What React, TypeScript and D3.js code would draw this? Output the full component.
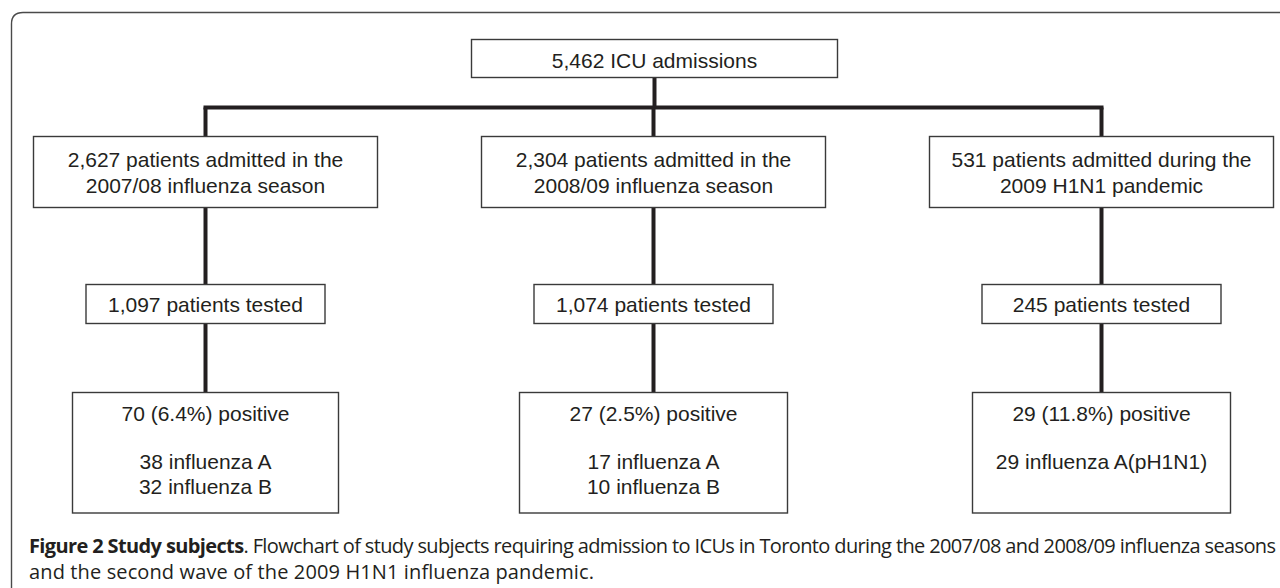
import React from "react";
import * as d3 from "d3";

// ---- data ----
const totalAdmissions = 5462;
const columns = ["2007/08", "2008/09", "2009 H1N1"];
const admitted = [2627, 2304, 531];
const admittedPhrase = ["admitted in the", "admitted in the", "admitted during the"];
const periodLabel = ["2007/08 influenza season", "2008/09 influenza season", "2009 H1N1 pandemic"];
const tested = [1097, 1074, 245];
const positive = [70, 27, 29];
const positivePct = [6.4, 2.5, 11.8];
const subtypeLines = [
  ["38 influenza A", "32 influenza B"],
  ["17 influenza A", "10 influenza B"],
  ["29 influenza A(pH1N1)"],
];
const captionBold = "Figure 2 Study subjects";
const captionRest =
  ". Flowchart of study subjects requiring admission to ICUs in Toronto during the 2007/08 and 2008/09 influenza seasons";
const captionLine2 = "and the second wave of the 2009 H1N1 influenza pandemic.";

// ---- layout ----
const W = 1280;
const H = 588;
const INK = "#231f20";
const BOX = "#3a3a3a";
const FONT = "'Liberation Sans', Arial, Helvetica, sans-serif";
const FS = 21;

const fmt = d3.format(",");
const x = d3.scalePoint<string>().domain(columns).range([205.5, 1101.5]);
const topCx = 654.5;

const rows = {
  top: { y0: 39.5, y1: 77.5, w: 366 },
  season: { y0: 136.5, y1: 207.5, w: 344 },
  tested: { y0: 284.5, y1: 323.5, w: 239 },
  positive: { y0: 392.5, y1: 513, ws: [266, 268, 258] },
};
const busY = 107.5;

function Box({ cx, y0, y1, w }: { cx: number; y0: number; y1: number; w: number }) {
  return (
    <rect
      x={cx - w / 2}
      y={y0}
      width={w}
      height={y1 - y0}
      fill="#fff"
      stroke={BOX}
      strokeWidth={1.4}
    />
  );
}

function Label({ cx, y, text }: { cx: number; y: number; text: string }) {
  return (
    <text x={cx} y={y} textAnchor="middle" fontFamily={FONT} fontSize={FS} fill={INK}>
      {text}
    </text>
  );
}

export default function App() {
  const connector = d3.line();
  const xs = columns.map((c) => x(c) as number);
  return (
    <svg
      width={W}
      height={H}
      style={{ position: "absolute", left: 0, top: 0, background: "#fff" }}
    >
      {/* outer frame with rounded top-left corner */}
      <path
        d={`M11.5,${H + 10} L11.5,24 Q11.5,12.5 23,12.5 L${W + 10},12.5`}
        fill="none"
        stroke="#4a4a4a"
        strokeWidth={1.4}
      />

      {/* connectors */}
      <g stroke={INK} strokeWidth={4} fill="none">
        <path d={connector([[topCx, rows.top.y1], [topCx, busY]]) as string} />
        <path d={connector([[xs[0], busY], [xs[2], busY]]) as string} strokeLinecap="square" />
        {xs.map((cx, i) => (
          <g key={i}>
            <path d={connector([[cx, busY], [cx, rows.season.y0]]) as string} />
            <path d={connector([[cx, rows.season.y1], [cx, rows.tested.y0]]) as string} />
            <path d={connector([[cx, rows.tested.y1], [cx, rows.positive.y0]]) as string} />
          </g>
        ))}
      </g>

      {/* top box */}
      <Box cx={topCx} y0={rows.top.y0} y1={rows.top.y1} w={rows.top.w} />
      <Label cx={topCx} y={67.5} text={`${fmt(totalAdmissions)} ICU admissions`} />

      {columns.map((c, i) => {
        const cx = xs[i];
        return (
          <g key={c}>
            <Box cx={cx} y0={rows.season.y0} y1={rows.season.y1} w={rows.season.w} />
            <Label cx={cx} y={167} text={`${fmt(admitted[i])} patients ${admittedPhrase[i]}`} />
            <Label cx={cx} y={192.5} text={periodLabel[i]} />

            <Box cx={cx} y0={rows.tested.y0} y1={rows.tested.y1} w={rows.tested.w} />
            <Label cx={cx} y={312} text={`${fmt(tested[i])} patients tested`} />

            <Box cx={cx} y0={rows.positive.y0} y1={rows.positive.y1} w={rows.positive.ws[i]} />
            <Label cx={cx} y={421} text={`${positive[i]} (${positivePct[i]}%) positive`} />
            {subtypeLines[i].map((t, j) => (
              <Label key={j} cx={cx} y={469 + j * 25} text={t} />
            ))}
          </g>
        );
      })}

      {/* caption */}
      <text
        x={29}
        y={553}
        fontFamily="'Open Sans', 'Noto Sans', sans-serif"
        fontSize={20}
        fill={INK}
        textLength={1247}
        lengthAdjust="spacing"
      >
        <tspan fontWeight="bold">{captionBold}</tspan>
        <tspan>{captionRest}</tspan>
      </text>
      <text
        x={29}
        y={579}
        fontFamily="'Open Sans', 'Noto Sans', sans-serif"
        fontSize={20}
        fill={INK}
        textLength={565}
        lengthAdjust="spacing"
      >
        {captionLine2}
      </text>
    </svg>
  );
}
